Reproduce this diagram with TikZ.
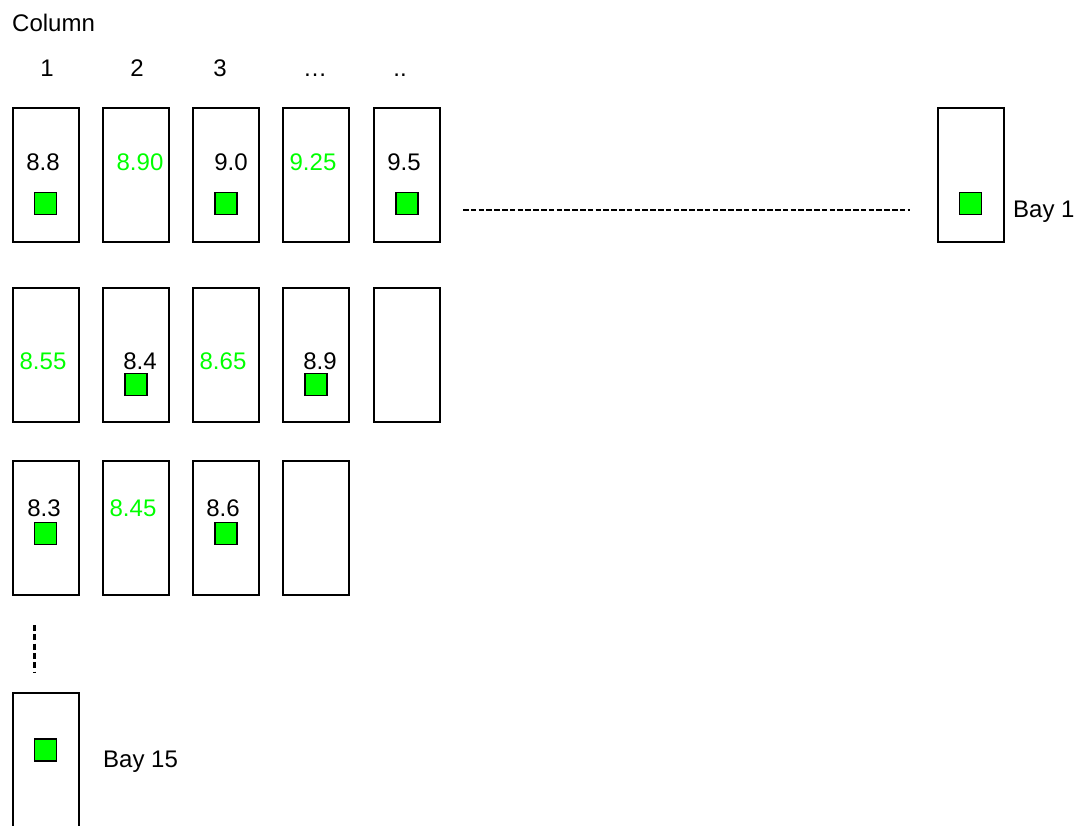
\documentclass[tikz,border=0pt]{standalone}
\usepackage{fontspec}
\setmainfont{Liberation Sans}
\definecolor{binGreen}{RGB}{0,255,0}
\tikzset{
  bay/.style={draw=black, line width=2pt, fill=white, minimum width=66pt, minimum height=134pt, inner sep=0pt},
  marker/.style={draw=black, line width=1.8pt, fill=binGreen, minimum width=22pt, minimum height=22pt, inner sep=0pt},
  lbl/.style={inner sep=0pt, anchor=base, font=\fontsize{24}{28}\selectfont},
  hot/.style={lbl, text=binGreen},
  gap/.style={line width=2.6pt, dash pattern=on 5.5pt off 2.3pt}
}
\begin{document}
\begin{tikzpicture}[x=1pt, y=-1pt]
\useasboundingbox (0,0) rectangle (1076,825);

% header
\node[lbl, anchor=base west] (hdr) at (12,31.5) {Column};
\node[lbl] (c1) at (47,76) {1};
\node[lbl] (c2) at (137,76) {2};
\node[lbl] (c3) at (220,76) {3};
\node[lbl] (c4) at (315,76) {…};
\node[lbl] (c5) at (400,76) {..};

% row 1 (bay 1)
\node[bay] (r1a) at (46,175) {};
\node[bay] (r1b) at (136,175) {};
\node[bay] (r1c) at (226,175) {};
\node[bay] (r1d) at (316,175) {};
\node[bay] (r1e) at (407,175) {};
\node[bay] (r1z) at (971,175) {};
\node[lbl] (t1a) at (43,170) {8.8};
\node[hot] (t1b) at (140,170) {8.90};
\node[lbl] (t1c) at (231,170) {9.0};
\node[hot] (t1d) at (313,170) {9.25};
\node[lbl] (t1e) at (404,170) {9.5};
\node[marker] (m1a) at (45.5,203.5) {};
\node[marker] (m1c) at (226,203.5) {};
\node[marker] (m1e) at (407,203.5) {};
\node[marker] (m1z) at (970.5,203.5) {};
\node[lbl, anchor=base west] (bay1) at (1013,217) {Bay 1};
\coordinate (g1) at (463,210);
\coordinate (g2) at (910,210);
\draw[gap] (g1) -- (g2);

% row 2
\node[bay] (r2a) at (46,355) {};
\node[bay] (r2b) at (136,355) {};
\node[bay] (r2c) at (226,355) {};
\node[bay] (r2d) at (316,355) {};
\node[bay] (r2e) at (407,355) {};
\node[hot] (t2a) at (43,369) {8.55};
\node[lbl] (t2b) at (140,369) {8.4};
\node[hot] (t2c) at (223,369) {8.65};
\node[lbl] (t2d) at (320,369) {8.9};
\node[marker] (m2b) at (136,384.5) {};
\node[marker] (m2d) at (316,384.5) {};

% row 3
\node[bay] (r3a) at (46,528) {};
\node[bay] (r3b) at (136,528) {};
\node[bay] (r3c) at (226,528) {};
\node[bay] (r3d) at (316,528) {};
\node[lbl] (t3a) at (44,516) {8.3};
\node[hot] (t3b) at (133,516) {8.45};
\node[lbl] (t3c) at (223,516) {8.6};
\node[marker] (m3a) at (45.5,533.5) {};
\node[marker] (m3c) at (226,533.5) {};

% continuation down to bay 15
\coordinate (v1) at (34.5,625);
\coordinate (v2) at (34.5,672);
\draw[line width=2.2pt, dash pattern=on 6pt off 3.3pt] (v1) -- (v2);
\node[bay] (r15a) at (46,760) {};
\node[marker] (m15a) at (45.5,750) {};
\node[lbl, anchor=base west] (bay15) at (103,767) {Bay 15};
\end{tikzpicture}
\end{document}
